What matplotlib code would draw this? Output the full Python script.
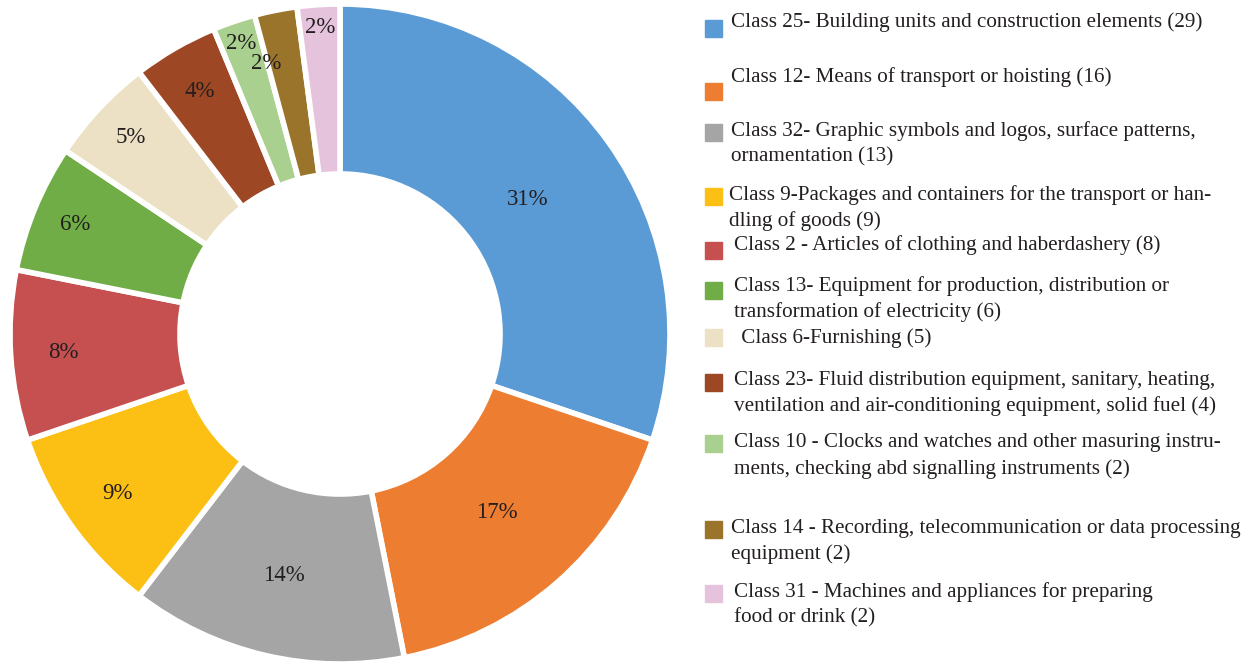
import numpy as np
import matplotlib.pyplot as plt

# data
classes = [
    "Class 25- Building units and construction elements (29)",
    "Class 12- Means of transport or hoisting (16)",
    "Class 32- Graphic symbols and logos, surface patterns,\nornamentation (13)",
    "Class 9-Packages and containers for the transport or han-\ndling of goods (9)",
    "Class 2 - Articles of clothing and haberdashery (8)",
    "Class 13- Equipment for production, distribution or\ntransformation of electricity (6)",
    " Class 6-Furnishing (5)",
    "Class 23- Fluid distribution equipment, sanitary, heating,\nventilation and air-conditioning equipment, solid fuel (4)",
    "Class 10 - Clocks and watches and other masuring instru-\nments, checking abd signalling instruments (2)",
    "Class 14 - Recording, telecommunication or data processing\nequipment (2)",
    "Class 31 - Machines and appliances for preparing\nfood or drink (2)",
]
counts = [29, 16, 13, 9, 8, 6, 5, 4, 2, 2, 2]
pct_labels = ["31%", "17%", "14%", "9%", "8%", "6%", "5%", "4%", "2%", "2%", "2%"]
colors = ["#5B9BD5", "#ED7D31", "#A5A5A5", "#FCBF13", "#C5504F", "#70AD47",
          "#EDE1C5", "#9E4724", "#A9D08E", "#9A742B", "#E6C3DC"]

# label radius (fraction of outer radius) and angular nudge, per wedge
label_r = [0.70, 0.72, 0.75, 0.83, 0.84, 0.87, 0.87, 0.85, 0.93, 0.85, 0.93]
label_dang = [0, 0, 0, 0, 0, 0, 0, 0, 0, 4, 0]

# legend layout (pixel y of first line / of the swatch, 668 px tall figure)
leg_y = [22, 77, 131, 195, 245, 286, 338, 380, 443, 528, 592]
box_y = [28, 91, 132, 196, 250, 290, 337, 382, 443, 529, 593]
leg_x = [731, 731, 731, 729, 734, 734, 736, 734, 734, 731, 734]
line_gap = 26

W, H = 1253, 668
fig = plt.figure(figsize=(W / 100, H / 100), dpi=100)
plt.rcParams["font.family"] = ["Liberation Serif", "DejaVu Serif"]
txt_color = "#231F20"

ax = fig.add_axes([10 / W, 4 / H, 660 / W, 660 / H])
wedges, _ = ax.pie(counts, colors=colors, startangle=90, counterclock=False,
                   radius=1.0, wedgeprops=dict(width=0.515, edgecolor="white", linewidth=4))
ax.set_xlim(-1, 1)
ax.set_ylim(-1, 1)
ax.set_aspect("equal")
ax.axis("off")

for w, lab, r, da in zip(wedges, pct_labels, label_r, label_dang):
    ang = np.deg2rad((w.theta1 + w.theta2) / 2 + da)
    ax.text(r * np.cos(ang), r * np.sin(ang), lab, ha="center", va="center",
            fontsize=16.5, color=txt_color)

# legend drawn by hand to follow the uneven spacing
for lab, c, tx, ty, by in zip(classes, colors, leg_x, leg_y, box_y):
    fig.patches.append(plt.Rectangle((705 / W, 1 - (by + 8.5) / H), 17 / W, 17 / H,
                                     transform=fig.transFigure, color=c))
    for i, line in enumerate(lab.split("\n")):
        fig.text(tx / W, 1 - (ty + i * line_gap) / H, line, ha="left", va="center",
                 fontsize=15.2, color=txt_color)

fig.savefig("out.png", dpi=100)
